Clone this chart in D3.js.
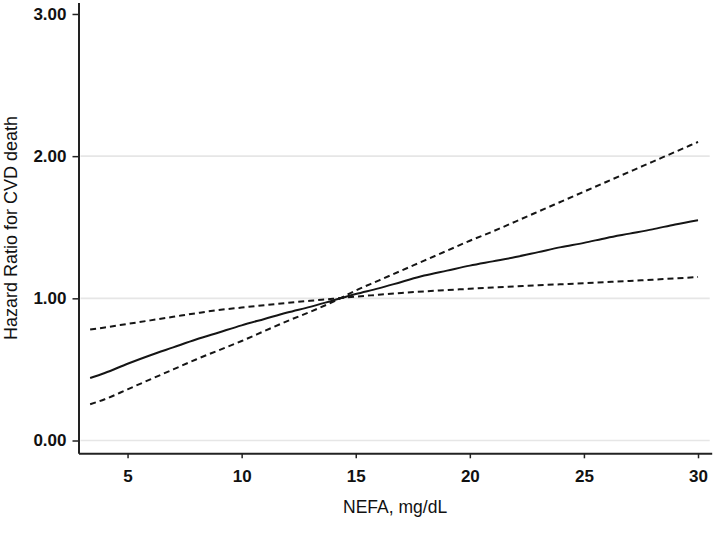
<!DOCTYPE html>
<html>
<head>
<meta charset="utf-8">
<script src="https://cdn.jsdelivr.net/npm/d3@7"></script>
<style>
  html, body { margin: 0; padding: 0; background: #fff; }
  svg { display: block; font-family: "Liberation Sans", Arial, sans-serif; }
</style>
</head>
<body>
<svg id="chart" width="714" height="547"></svg>
<script>
// NEFA values (mg/dL) at which the curves were read
const nefa = [3.36, 4, 5, 6, 7, 8, 9, 10, 11, 12, 13, 14, 15, 16, 17, 18, 19, 20, 21, 22, 23, 24, 25, 26, 27, 28, 29, 30];
// Hazard ratio (solid line)
const hazardRatio = [0.44, 0.475, 0.54, 0.60, 0.655, 0.71, 0.76, 0.81, 0.855, 0.90, 0.94, 0.985, 1.03, 1.07, 1.115, 1.16, 1.195, 1.23, 1.26, 1.29, 1.325, 1.36, 1.39, 1.425, 1.455, 1.485, 1.52, 1.55];
// Confidence bound that stays flat (upper below the reference, lower above it)
const ciFlat = [0.78, 0.795, 0.82, 0.845, 0.87, 0.895, 0.918, 0.935, 0.952, 0.968, 0.983, 0.997, 1.012, 1.025, 1.038, 1.049, 1.058, 1.067, 1.076, 1.084, 1.092, 1.099, 1.106, 1.114, 1.122, 1.131, 1.14, 1.15];
// Confidence bound that is steep (lower below the reference, upper above it)
const ciSteep = [0.255, 0.29, 0.36, 0.43, 0.50, 0.57, 0.635, 0.70, 0.77, 0.84, 0.905, 0.975, 1.055, 1.125, 1.195, 1.265, 1.335, 1.405, 1.47, 1.54, 1.61, 1.68, 1.75, 1.82, 1.89, 1.96, 2.03, 2.10];

const xTicks = [5, 10, 15, 20, 25, 30];
const yTicks = [0, 1, 2, 3];
const yGrid = [0, 1, 2];
const xTitle = "NEFA, mg/dL";
const yTitle = "Hazard Ratio for CVD death";

const svg = d3.select("#chart");

const x = d3.scaleLinear().domain([2.85, 30.6]).range([78.5, 711.7]);
const y = d3.scaleLinear().domain([-0.09, 3.08]).range([453.3, 2.6]);

// gridlines
svg.append("g").selectAll("line").data(yGrid).join("line")
  .attr("x1", x(2.85) + 2).attr("x2", x(30.6) - 2)
  .attr("y1", d => y(d)).attr("y2", d => y(d))
  .attr("stroke", "#e6e6e6").attr("stroke-width", 1.6);

// curves
const line = d3.line().x((d, i) => x(nefa[i])).y(d => y(d)).curve(d3.curveMonotoneX);
const series = [
  { values: ciFlat, dash: "6,4" },
  { values: ciSteep, dash: "6,4" },
  { values: hazardRatio, dash: null }
];
svg.append("g").selectAll("path").data(series).join("path")
  .attr("d", d => line(d.values))
  .attr("fill", "none")
  .attr("stroke", "#151515")
  .attr("stroke-width", 2)
  .attr("stroke-dasharray", d => d.dash);

// y axis
const yAxis = svg.append("g").attr("transform", `translate(${x(2.85)},0)`)
  .call(d3.axisLeft(y).tickValues(yTicks).tickFormat(d3.format(".2f")).tickSize(6).tickSizeOuter(0).tickPadding(6));
yAxis.select(".domain").attr("stroke", "#222").attr("stroke-width", 2);
yAxis.selectAll(".tick line").attr("stroke", "#222").attr("stroke-width", 1.5);
yAxis.selectAll(".tick text").attr("font-size", 17).attr("font-weight", "bold").attr("fill", "#111")
  .attr("font-family", "'Liberation Sans', Arial, sans-serif");

// x axis
const xAxis = svg.append("g").attr("transform", `translate(0,${y(-0.09)})`)
  .call(d3.axisBottom(x).tickValues(xTicks).tickSize(5).tickSizeOuter(0).tickPadding(12));
xAxis.select(".domain").attr("stroke", "#222").attr("stroke-width", 2);
xAxis.selectAll(".tick line").attr("stroke", "#222").attr("stroke-width", 1.5);
xAxis.selectAll(".tick text").attr("font-size", 17).attr("font-weight", "bold").attr("fill", "#111")
  .attr("font-family", "'Liberation Sans', Arial, sans-serif");

// axis titles
svg.append("text")
  .attr("x", (x(2.85) + x(30.6)) / 2).attr("y", 512.7)
  .attr("text-anchor", "middle").attr("font-size", 17.5).attr("fill", "#111")
  .text(xTitle);
svg.append("text")
  .attr("transform", `translate(16.5,228) rotate(-90)`)
  .attr("text-anchor", "middle").attr("font-size", 18).attr("fill", "#111")
  .text(yTitle);
</script>
</body>
</html>
